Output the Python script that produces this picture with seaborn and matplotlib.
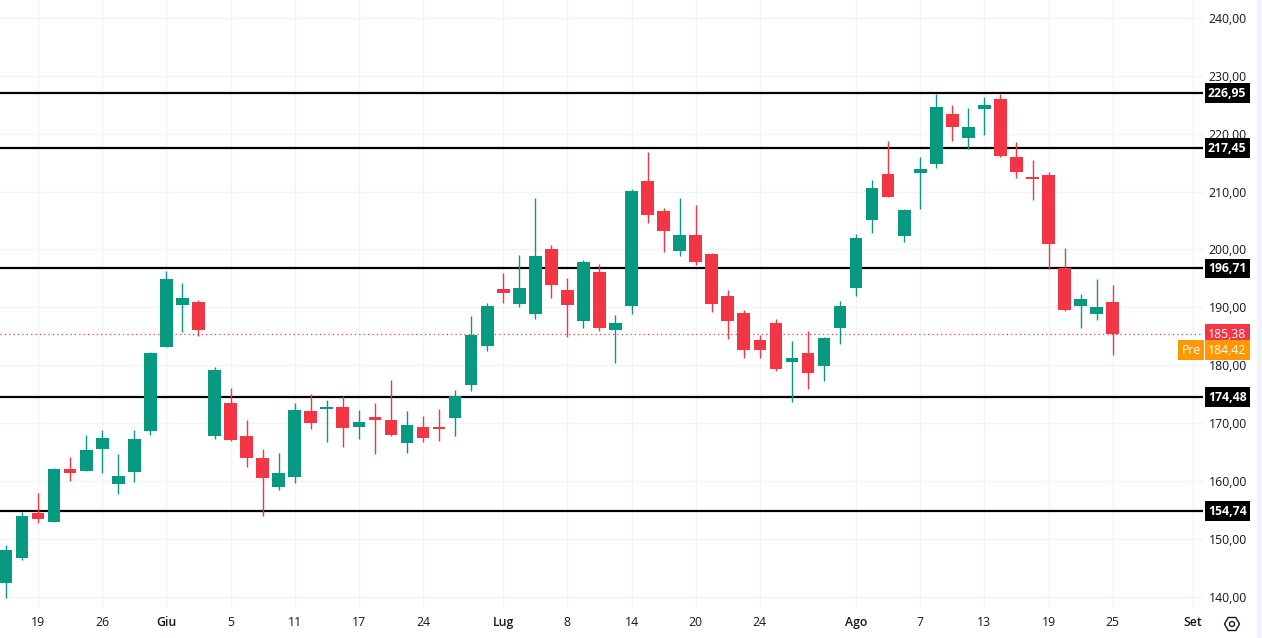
import numpy as np
import pandas as pd
import matplotlib
matplotlib.use("Agg")
import matplotlib.pyplot as plt
import seaborn as sns
from matplotlib.patches import RegularPolygon, Circle, Rectangle
from matplotlib.transforms import blended_transform_factory

# ---- data ----
opens = [142.4, 146.6, 154.4, 152.9, 162.0, 161.8, 165.6, 159.4, 161.5, 168.6,
         183.2, 190.4, 190.9, 167.8, 173.5, 167.7, 164.0, 158.9, 160.7, 172.0,
         172.4, 172.7, 169.3, 171.0, 170.6, 166.5, 169.4, 169.4, 170.9, 176.6,
         183.3, 193.1, 190.6, 188.8, 200.1, 193.0, 187.7, 196.1, 186.1, 190.3,
         211.8, 206.6, 199.8, 202.5, 199.2, 191.9, 189.0, 184.4, 187.3, 180.6,
         182.1, 179.8, 186.4, 193.4, 205.1, 213.0, 202.4, 213.2, 214.7, 223.4,
         219.2, 224.3, 226.0, 216.0, 212.3, 212.9, 196.8, 190.3, 188.9, 191.0]
highs = [149.0, 154.6, 158.0, 162.2, 164.2, 168.0, 168.8, 164.6, 168.8, 182.3,
         196.3, 194.2, 191.2, 179.6, 176.0, 170.5, 165.6, 164.9, 173.4, 175.0,
         173.9, 174.6, 172.2, 173.4, 177.4, 172.0, 171.2, 172.5, 175.7, 188.5,
         190.7, 196.0, 199.0, 208.9, 200.8, 195.0, 198.2, 197.5, 188.6, 210.5,
         216.8, 207.2, 208.9, 207.7, 199.4, 193.0, 189.6, 185.2, 188.0, 184.2,
         185.9, 184.8, 191.1, 202.7, 212.0, 218.8, 207.0, 216.0, 226.9, 225.0,
         224.5, 226.3, 226.9, 218.6, 215.4, 213.3, 200.2, 192.3, 194.9, 193.8]
lows = [139.7, 146.3, 152.7, 152.9, 160.0, 161.8, 161.3, 157.7, 159.8, 168.0,
        183.1, 185.8, 185.1, 167.2, 166.9, 162.4, 153.9, 158.4, 159.7, 169.0,
        166.7, 165.9, 167.2, 164.6, 167.7, 164.9, 166.7, 166.9, 167.7, 175.5,
        182.5, 190.7, 190.1, 188.0, 191.6, 184.8, 186.5, 185.9, 180.4, 188.9,
        204.6, 199.6, 198.9, 197.3, 189.2, 184.6, 181.3, 181.3, 179.0, 173.7,
        175.9, 177.3, 183.6, 191.9, 202.9, 209.0, 201.2, 206.9, 214.0, 218.8,
        217.4, 219.7, 215.9, 212.4, 208.6, 196.6, 189.4, 186.4, 187.8, 181.8]
closes = [148.0, 154.0, 153.4, 162.0, 161.3, 165.3, 167.4, 160.8, 167.2, 182.1,
          194.9, 191.6, 186.1, 179.1, 167.1, 163.9, 160.5, 161.3, 172.2, 170.0,
          172.7, 169.1, 170.1, 170.5, 168.0, 169.6, 167.5, 168.9, 174.6, 185.2,
          190.2, 192.5, 193.3, 198.9, 193.9, 190.4, 197.8, 186.5, 187.3, 210.1,
          206.0, 203.1, 202.5, 197.9, 190.5, 187.7, 182.7, 182.7, 179.4, 181.3,
          178.7, 184.7, 190.2, 202.0, 210.6, 209.1, 206.8, 213.9, 224.6, 221.2,
          221.2, 225.0, 216.2, 213.3, 212.2, 200.9, 189.5, 191.4, 190.0, 185.38]

tick_pos = [2, 6, 10, 14, 18, 22, 26, 31, 35, 39, 43, 47, 53, 57, 61, 65, 69, 74]
tick_labels = ["19", "26", "Giu", "5", "11", "17", "24", "Lug", "8", "14",
               "20", "24", "Ago", "7", "13", "19", "25", "Set"]
month_labels = ["Giu", "Lug", "Ago", "Set"]
levels = [226.95, 217.45, 196.71, 174.48, 154.74]
last_price = 185.38
pre_price = 184.42
y_ticks = [140, 150, 160, 170, 180, 190, 200, 210, 220, 230, 240]

UP = "#089981"
DOWN = "#f23645"
PRE = "#ff9800"
TXT = "#131722"
GRID = "#f0f3fa"
FS = 8.8

def fmt(v):
    return f"{v:.2f}".replace(".", ",")

sns.set_theme(style="white")
plt.rcParams['font.family'] = ['Open Sans', 'DejaVu Sans']

df = pd.DataFrame({"open": opens, "high": highs, "low": lows, "close": closes})
df["idx"] = np.arange(len(df))
df["up"] = df["close"] >= df["open"]
df["color"] = np.where(df["up"], UP, DOWN)
df["bottom"] = df[["open", "close"]].min(axis=1)
df["height"] = (df["close"] - df["open"]).abs().clip(lower=0.25)

W, H = 1262, 638
fig = plt.figure(figsize=(W / 100, H / 100), dpi=100)
fig.patch.set_facecolor("white")
ax = fig.add_axes([0, 31 / H, 1203 / W, 607 / H])

# grid
ax.set_yticks(y_ticks)
ax.set_yticklabels([fmt(v) for v in y_ticks])
ax.set_xticks(tick_pos)
ax.set_xticklabels(tick_labels)
ax.grid(True, color=GRID, lw=1, zorder=0)
ax.set_axisbelow(True)

# candles
ax.vlines(df["idx"], df["low"], df["high"], colors=df["color"], lw=1.0, zorder=3)
ax.bar(df["idx"], df["height"], bottom=df["bottom"], width=0.79,
       color=df["color"], lw=0, zorder=4)

# levels
for lv in levels:
    ax.axhline(lv, color="black", lw=1.6, zorder=2)
ax.axhline(last_price, color=DOWN, lw=0.9, ls=(0, (1, 2.5)), zorder=1)

ax.set_xlim(-0.374, 74.63)
ax.set_ylim(138.22, 243.09)
for s in ax.spines.values():
    s.set_visible(False)

ax.yaxis.tick_right()
ax.tick_params(axis="y", length=0, pad=4, labelsize=FS, labelcolor=TXT)
ax.tick_params(axis="x", length=0, pad=6.5, labelsize=FS, labelcolor=TXT)
for t in ax.get_xticklabels():
    if t.get_text() in month_labels:
        t.set_fontweight("semibold")

blend = blended_transform_factory(ax.transAxes, ax.transData)
xlab = 1208.0 / 1203
for lv in levels:
    ax.text(xlab, lv, fmt(lv), transform=blend, ha="left", va="center",
            color="white", fontsize=FS, fontweight="bold", clip_on=False,
            bbox=dict(boxstyle="square,pad=0.28", fc="black", ec="none"), zorder=10)
ax.text(xlab, last_price, fmt(last_price), transform=blend, ha="left", va="center",
        color="white", fontsize=FS, clip_on=False,
        bbox=dict(boxstyle="square,pad=0.28", fc=DOWN, ec="none"), zorder=10)
ax.annotate(fmt(pre_price), xy=(xlab, pre_price), xycoords=blend,
            xytext=(0, -7.5), textcoords="offset points", ha="left", va="center",
            color="white", fontsize=FS, annotation_clip=False,
            bbox=dict(boxstyle="square,pad=0.28", fc=PRE, ec="none"), zorder=10)
ax.annotate("Pre", xy=(1200.5 / 1203, pre_price), xycoords=blend,
            xytext=(0, -7.5), textcoords="offset points", ha="right", va="center",
            color="white", fontsize=FS, annotation_clip=False,
            bbox=dict(boxstyle="square,pad=0.28", fc=PRE, ec="none"), zorder=10)

# settings icon and scroll strip
fig.add_artist(Rectangle((1257 / W, 0), 5 / W, 1, transform=fig.transFigure,
                         fc=GRID, ec="none"))
fig.add_artist(RegularPolygon((12.32, 0.14), numVertices=6, radius=0.075,
                              orientation=np.pi / 6, transform=fig.dpi_scale_trans,
                              fc="none", ec=TXT, lw=1.0))
fig.add_artist(Circle((12.32, 0.14), radius=0.025, transform=fig.dpi_scale_trans,
                      fc="none", ec=TXT, lw=1.0))

fig.savefig("out.png", dpi=100, facecolor="white")
